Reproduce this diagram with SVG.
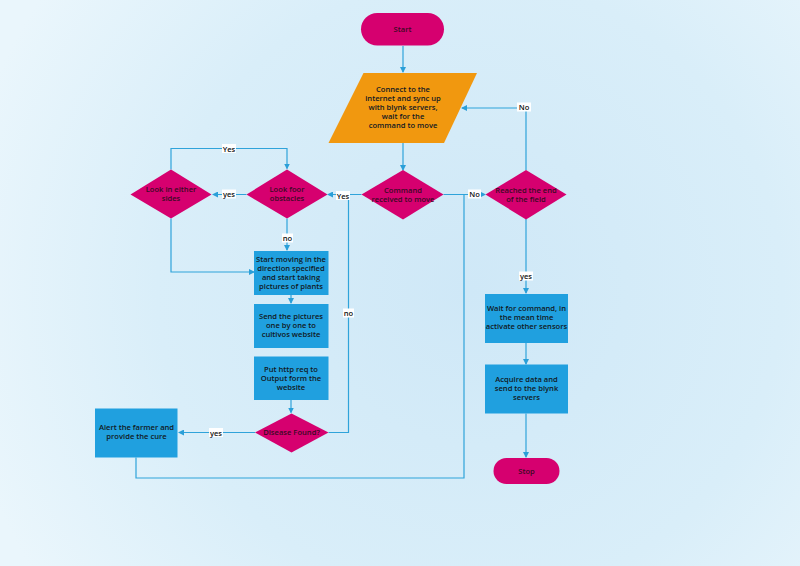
<svg xmlns="http://www.w3.org/2000/svg" width="800" height="566" viewBox="0 0 800 566">
<defs>
<radialGradient id="bg" cx="470" cy="290" r="520" gradientUnits="userSpaceOnUse">
<stop offset="0" stop-color="#cfe8f7"/>
<stop offset="0.6" stop-color="#d9eef9"/>
<stop offset="1" stop-color="#eaf6fc"/>
</radialGradient>
<marker id="ar" markerWidth="6" markerHeight="6" refX="5" refY="3" orient="auto" markerUnits="userSpaceOnUse">
<path d="M0,0 L6,3 L0,6 Z" fill="#2a9fd8"/>
</marker>
<style>
.t{font-family:"Open Sans","Noto Sans",sans-serif;font-size:7.6px;font-weight:600;text-anchor:middle;fill:#111822}
.dt{fill:#3a0a24}
.term{fill:#d6006f}
.dia{fill:#d6006f}
.box{fill:#20a0df}
.io{fill:#f1980f}
.c{fill:none;stroke:#2fa3da;stroke-width:1.2}
.lb{fill:#ffffff}
.l{font-family:"Open Sans","Noto Sans",sans-serif;font-size:7.6px;font-weight:600;text-anchor:middle;fill:#111}
</style>
</defs>
<rect width="800" height="566" fill="url(#bg)"/>

<g id="connectors">
<path class="c" d="M403,46 V72" marker-end="url(#ar)"/>
<path class="c" d="M403,143 V170" marker-end="url(#ar)"/>
<path class="c" d="M443.5,194.5 H485" marker-end="url(#ar)"/>
<path class="c" d="M464,194.5 V478 H136 V457.5"/>
<path class="c" d="M526,170 V108 H462" marker-end="url(#ar)"/>
<path class="c" d="M526,219 V293" marker-end="url(#ar)"/>
<path class="c" d="M526,343 V364" marker-end="url(#ar)"/>
<path class="c" d="M526,413.5 V457" marker-end="url(#ar)"/>
<path class="c" d="M361.5,194.5 H328" marker-end="url(#ar)"/>
<path class="c" d="M328.5,432.5 H348.5 V194.5"/>
<path class="c" d="M246.5,194.5 H213" marker-end="url(#ar)"/>
<path class="c" d="M171,169.5 V148.5 H287 V168.5" marker-end="url(#ar)"/>
<path class="c" d="M171,218.5 V272 H254" marker-end="url(#ar)"/>
<path class="c" d="M287,218.5 V250" marker-end="url(#ar)"/>
<path class="c" d="M291,295 V303" marker-end="url(#ar)"/>
<path class="c" d="M291,400 V412.5" marker-end="url(#ar)"/>
<path class="c" d="M255,432.5 H179" marker-end="url(#ar)"/>
<g id="labels">
<rect class="lb" x="517" y="102.5" width="14" height="9"/><text class="l" x="524" y="110">No</text>
<rect class="lb" x="468" y="189.5" width="13" height="9"/><text class="l" x="474.5" y="197">No</text>
<rect class="lb" x="519" y="271.5" width="14" height="9"/><text class="l" x="526" y="279">yes</text>
<rect class="lb" x="336" y="191" width="14" height="9"/><text class="l" x="343" y="198.5">Yes</text>
<rect class="lb" x="222" y="189.5" width="14" height="9"/><text class="l" x="229" y="197">yes</text>
<rect class="lb" x="222" y="144" width="14" height="9"/><text class="l" x="229" y="151.5">Yes</text>
<rect class="lb" x="282" y="233.5" width="11" height="9"/><text class="l" x="287.5" y="241">no</text>
<rect class="lb" x="343" y="308.5" width="11" height="9"/><text class="l" x="348.5" y="316">no</text>
<rect class="lb" x="209" y="428" width="14" height="9"/><text class="l" x="216" y="435.5">yes</text>
</g>
</g>

<g id="start">
<rect class="term" x="361" y="13" width="83" height="32.5" rx="16.25"/>
<text class="t dt" x="402.5" y="32">Start</text>
</g>

<g id="connect">
<polygon class="io" points="363.5,73 477,73 444,143 328.5,143"/>
<text class="t" x="403" y="92">Connect to the</text>
<text class="t" x="403" y="101">internet and sync up</text>
<text class="t" x="403" y="110">with blynk servers,</text>
<text class="t" x="403" y="119">wait for the</text>
<text class="t" x="403" y="128">command to move</text>
</g>

<g id="command">
<polygon class="dia" points="403,170 443.5,194.5 403,219.5 361.5,194.5"/>
<text class="t dt" x="403" y="192.5">Command</text>
<text class="t dt" x="403" y="201.5">received to move</text>
</g>

<g id="reached">
<polygon class="dia" points="526,170 566.5,194.5 526,219.5 485.5,194.5"/>
<text class="t dt" x="526" y="192.5">Reached the end</text>
<text class="t dt" x="526" y="201.5">of the field</text>
</g>

<g id="wait">
<rect class="box" x="485" y="294" width="83" height="49"/>
<text class="t" x="526.5" y="311">Wait for command, in</text>
<text class="t" x="526.5" y="320">the mean time</text>
<text class="t" x="526.5" y="329">activate other sensors</text>
</g>

<g id="acquire">
<rect class="box" x="485" y="364.5" width="83" height="49"/>
<text class="t" x="526.5" y="381.5">Acquire data and</text>
<text class="t" x="526.5" y="390.5">send to the blynk</text>
<text class="t" x="526.5" y="399.5">servers</text>
</g>

<g id="stop">
<rect class="term" x="493.5" y="458" width="66" height="26" rx="13"/>
<text class="t dt" x="526.5" y="473.5">Stop</text>
</g>

<g id="obstacles">
<polygon class="dia" points="287,169.5 327.5,194.5 287,218.5 246.5,194.5"/>
<text class="t dt" x="287" y="191.5">Look foor</text>
<text class="t dt" x="287" y="200.5">obstacles</text>
</g>

<g id="sides">
<polygon class="dia" points="171,169.5 211.5,194.5 171,218.5 130.5,194.5"/>
<text class="t dt" x="171" y="191.5">Look in either</text>
<text class="t dt" x="171" y="200.5">sides</text>
</g>

<g id="moving">
<rect class="box" x="254" y="251" width="74.5" height="44"/>
<text class="t" x="291" y="261.5">Start moving in the</text>
<text class="t" x="291" y="270.5">direction specified</text>
<text class="t" x="291" y="279.5">and start taking</text>
<text class="t" x="291" y="288.5">pictures of plants</text>
</g>

<g id="send">
<rect class="box" x="254" y="304" width="74.5" height="44"/>
<text class="t" x="291" y="318.5">Send the pictures</text>
<text class="t" x="291" y="327.5">one by one to</text>
<text class="t" x="291" y="336.5">cultivos website</text>
</g>

<g id="http">
<rect class="box" x="254" y="356.5" width="74.5" height="43.5"/>
<text class="t" x="291" y="371.5">Put http req to</text>
<text class="t" x="291" y="380.5">Output form the</text>
<text class="t" x="291" y="389.5">website</text>
</g>

<g id="disease">
<polygon class="dia" points="291.5,413.5 328.5,432.5 291.5,452.5 255,432.5"/>
<text class="t dt" x="291.5" y="435">Disease Found?</text>
</g>

<g id="alert">
<rect class="box" x="95" y="408.5" width="82.5" height="49"/>
<text class="t" x="136.5" y="429.5">Alert the farmer and</text>
<text class="t" x="136.5" y="439">provide the cure</text>
</g>
</svg>
